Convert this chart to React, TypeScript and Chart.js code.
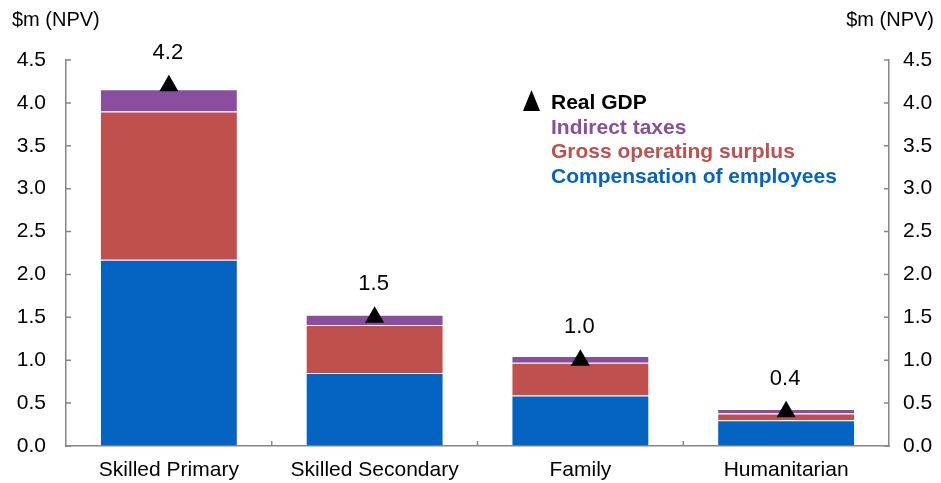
import React, { useEffect, useRef } from "react";
import { Chart, registerables } from "chart.js";

Chart.register(...registerables);

const categories = ["Skilled Primary", "Skilled Secondary", "Family", "Humanitarian"];
const compensation = [2.17, 0.85, 0.59, 0.3];
const grossOperating = [1.73, 0.56, 0.38, 0.08];
const indirectTaxes = [0.26, 0.12, 0.08, 0.05];
const realGDP = [4.2, 1.5, 1.0, 0.4];
const gdpLabels = ["4.2", "1.5", "1.0", "0.4"];
const yTicks = [0, 0.5, 1, 1.5, 2, 2.5, 3, 3.5, 4, 4.5];
const axisTitle = "$m (NPV)";

const BLUE = "#0563C1";
const RED = "#C0504D";
const PURPLE = "#8A4E9F";
const AXIS = "#868686";
const FONT = "'Liberation Sans', Arial, sans-serif";

const overlayPlugin = {
  id: "overlay",
  afterDraw(chart: any) {
    const { ctx, chartArea } = chart;
    const x = chart.scales.x;
    const y = chart.scales.y;
    ctx.save();
    // inward ticks
    ctx.strokeStyle = AXIS;
    ctx.lineWidth = 1.5;
    ctx.beginPath();
    yTicks.forEach((v) => {
      const py = y.getPixelForValue(v);
      ctx.moveTo(chartArea.left, py);
      ctx.lineTo(chartArea.left + 5, py);
      ctx.moveTo(chartArea.right, py);
      ctx.lineTo(chartArea.right - 5, py);
    });
    for (let i = 1; i < categories.length; i++) {
      const px = (x.getPixelForValue(i - 1) + x.getPixelForValue(i)) / 2;
      ctx.moveTo(px, chartArea.bottom);
      ctx.lineTo(px, chartArea.bottom - 5);
    }
    ctx.stroke();

    // value labels above triangles
    ctx.fillStyle = "#000";
    ctx.font = `22px ${FONT}`;
    ctx.textAlign = "center";
    ctx.textBaseline = "middle";
    realGDP.forEach((v, i) => {
      ctx.fillText(gdpLabels[i], x.getPixelForValue(i) - 1, y.getPixelForValue(v) - 33);
    });

    // axis titles
    ctx.font = `20px ${FONT}`;
    ctx.textAlign = "left";
    ctx.fillText(axisTitle, 12, 20);
    ctx.textAlign = "right";
    ctx.fillText(axisTitle, 934, 20);

    // legend
    const items = [
      { text: chart.data.datasets[3].label, color: "#000" },
      { text: chart.data.datasets[2].label, color: PURPLE },
      { text: chart.data.datasets[1].label, color: RED },
      { text: chart.data.datasets[0].label, color: BLUE },
    ];
    ctx.font = `bold 21px ${FONT}`;
    ctx.textAlign = "left";
    const lx = 551;
    const ly = [103, 128, 152, 177];
    items.forEach((it, i) => {
      ctx.fillStyle = it.color;
      ctx.fillText(it.text, lx, ly[i]);
    });
    // legend triangle
    ctx.fillStyle = "#000";
    ctx.beginPath();
    ctx.moveTo(531.5, 90);
    ctx.lineTo(540, 111);
    ctx.lineTo(523, 111);
    ctx.closePath();
    ctx.fill();
    ctx.restore();
  },
};

export default function App() {
  const ref = useRef<HTMLCanvasElement>(null);
  useEffect(() => {
    if (!ref.current) return;
    const tickFont = { family: FONT, size: 21 };
    const chart = new Chart(ref.current, {
      type: "bar",
      data: {
        labels: categories,
        datasets: [
          { label: "Compensation of employees", data: compensation, backgroundColor: BLUE, borderColor: "rgba(255,255,255,0.45)", borderWidth: 1, stack: "s", order: 2 },
          { label: "Gross operating surplus", data: grossOperating, backgroundColor: RED, borderColor: "rgba(255,255,255,0.45)", borderWidth: 1, stack: "s", order: 2 },
          { label: "Indirect taxes", data: indirectTaxes, backgroundColor: PURPLE, borderColor: "rgba(255,255,255,0.45)", borderWidth: 1, stack: "s", order: 2 },
          {
            type: "line",
            label: "Real GDP",
            data: realGDP,
            showLine: false,
            pointStyle: "triangle",
            pointRadius: 11,
            pointBackgroundColor: "#000",
            pointBorderColor: "#000",
            pointBorderWidth: 0,
            order: 1,
          } as any,
        ],
      },
      options: {
        responsive: false,
        animation: false,
        devicePixelRatio: 1,
        layout: { padding: { top: 60, left: 0, right: 0, bottom: 0 } },
        plugins: { legend: { display: false }, tooltip: { enabled: false } },
        datasets: { bar: { barPercentage: 0.67, categoryPercentage: 1 } },
        scales: {
          x: {
            stacked: true,
            offset: true,
            grid: { display: true, drawOnChartArea: false, drawTicks: false },
            border: { display: true, color: AXIS, width: 1.5 },
            ticks: { color: "#000", font: tickFont, padding: 12, maxRotation: 0, autoSkip: false },
            afterFit: (s: any) => { s.height = 37; },
          },
          y: {
            stacked: true,
            position: "left",
            min: 0,
            max: 4.5,
            grid: { display: true, drawOnChartArea: false, drawTicks: false },
            border: { display: true, color: AXIS, width: 1.5 },
            ticks: { stepSize: 0.5, color: "#000", font: tickFont, padding: 20, callback: (v: any) => Number(v).toFixed(1) },
            afterFit: (s: any) => { s.width = 66; },
          },
          y2: {
            position: "right",
            min: 0,
            max: 4.5,
            grid: { display: true, drawOnChartArea: false, drawTicks: false },
            border: { display: true, color: AXIS, width: 1.5 },
            ticks: { stepSize: 0.5, color: "#000", font: tickFont, padding: 14, callback: (v: any) => Number(v).toFixed(1) },
            afterFit: (s: any) => { s.width = 52; },
          },
        },
      },
      plugins: [overlayPlugin],
    });
    return () => chart.destroy();
  }, []);
  return (
    <div style={{ position: "fixed", left: 0, top: 0, width: 941, height: 483, background: "#fff" }}>
      <canvas ref={ref} width={941} height={483} style={{ display: "block" }} />
    </div>
  );
}
